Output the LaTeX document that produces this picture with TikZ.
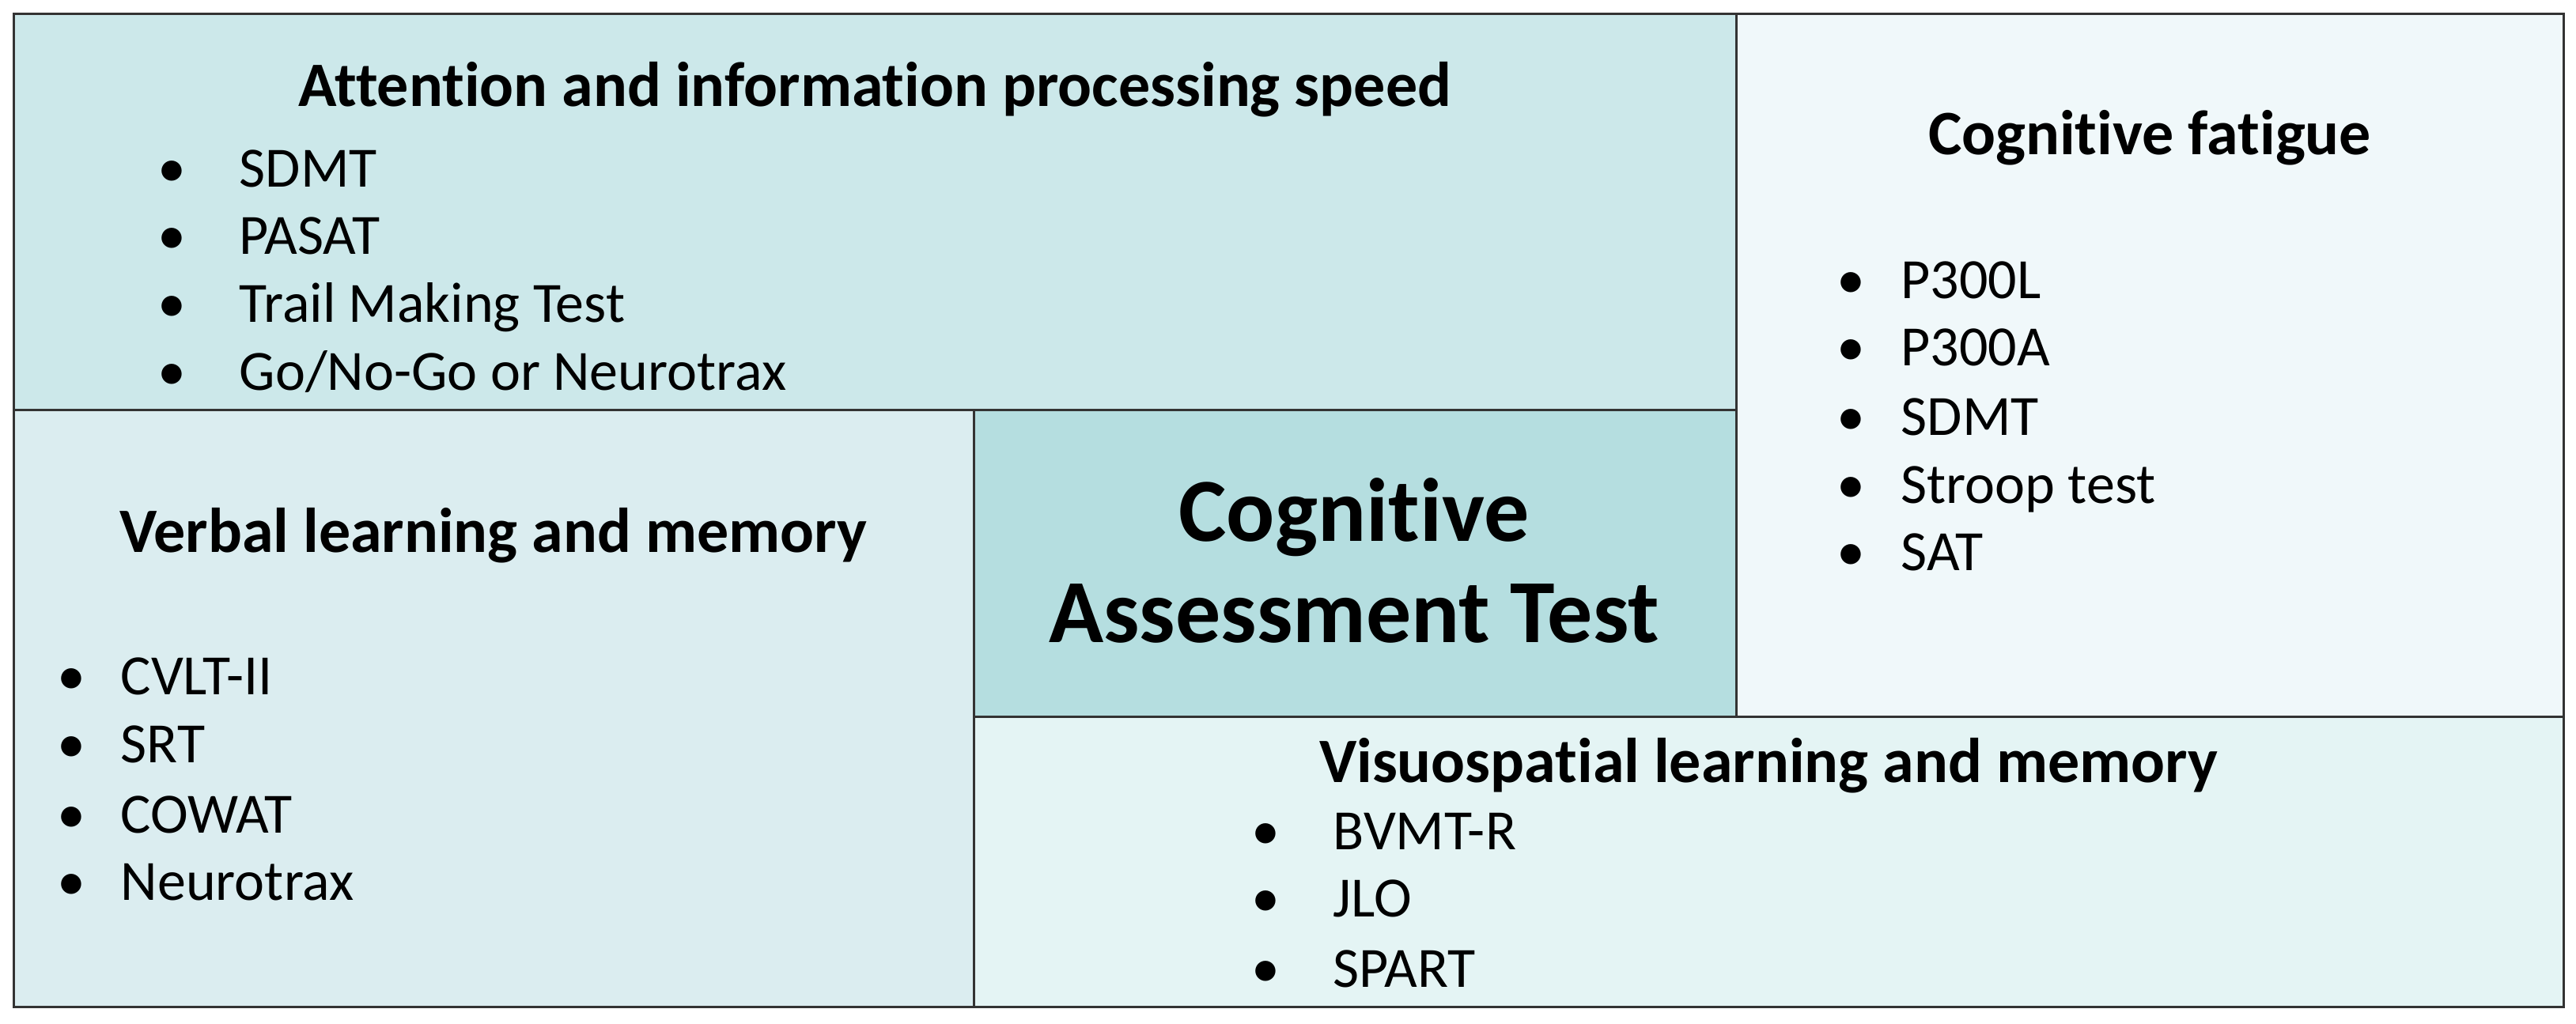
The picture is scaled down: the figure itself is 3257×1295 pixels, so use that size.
\documentclass[tikz,border=0pt]{standalone}
\usepackage{fontspec}
\setmainfont{Carlito}[Ligatures=NoCommon]
\definecolor{attncol}{HTML}{CCE8EA}
\definecolor{fatcol}{HTML}{F0F8FA}
\definecolor{verbcol}{HTML}{DBEDF0}
\definecolor{corecol}{HTML}{B5DEE0}
\definecolor{visucol}{HTML}{E4F4F4}
\newcommand{\itm}[2]{\llap{\textbullet\hspace{#1}}#2}

\begin{document}
\begin{tikzpicture}[x=0.25pt,y=-0.25pt]
                        \tikzstyle{panel}=[draw=black!80, line width=0.75pt]
                        \tikzstyle{head}=[font=\fontsize{20}{23}\selectfont\bfseries, anchor=base, inner sep=0pt]
                        \tikzstyle{item}=[font=\fontsize{18}{21.5}\selectfont, anchor=base west, inner sep=0pt]
                        \tikzstyle{core}=[font=\fontsize{28.5}{32}\selectfont\bfseries, anchor=base, inner sep=0pt]
                        \useasboundingbox[fill=white] (0,0) rectangle (3257,1295);
                        % panels
                        \filldraw[panel, fill=attncol] (17,17) rectangle (2195,518);
                        \filldraw[panel, fill=fatcol] (2195,17) rectangle (3241,906);
                        \filldraw[panel, fill=verbcol] (17,518) rectangle (1231,1273);
                        \filldraw[panel, fill=corecol] (1231,518) rectangle (2195,906);
                        \filldraw[panel, fill=visucol] (1231,906) rectangle (3241,1273);
                        % attention
                        \node[head] (attn) at (1106,134) {Attention and information processing speed};
                        \node[item] (attn1) at (302,236) {\itm{16.75pt}{SDMT}};
                        \node[item] (attn2) at (302,321) {\itm{16.75pt}{PASAT}};
                        \node[item] (attn3) at (302,407) {\itm{16.75pt}{Trail Making Test}};
                        \node[item] (attn4) at (302,493) {\itm{16.75pt}{Go/No-Go or Neurotrax}};
                        % fatigue
                        \node[head] (fat) at (2718,195) {Cognitive fatigue};
                        \node[item] (fat1) at (2403,377) {\itm{11.25pt}{P300L}};
                        \node[item] (fat2) at (2403,462) {\itm{11.25pt}{P300A}};
                        \node[item] (fat3) at (2403,550) {\itm{11.25pt}{SDMT}};
                        \node[item] (fat4) at (2403,636) {\itm{11.25pt}{Stroop test}};
                        \node[item] (fat5) at (2403,721) {\itm{11.25pt}{SAT}};
                        % verbal
                        \node[head] (verb) at (624,698) {Verbal learning and memory};
                        \node[item] (verb1) at (152,878) {\itm{11pt}{CVLT-II}};
                        \node[item] (verb2) at (152,964) {\itm{11pt}{SRT}};
                        \node[item] (verb3) at (152,1053) {\itm{11pt}{COWAT}};
                        \node[item] (verb4) at (152,1138) {\itm{11pt}{Neurotrax}};
                        % centre
                        \node[core] (core1) at (1712,684) {Cognitive};
                        \node[core] (core2) at (1712,812) {Assessment Test};
                        % visuospatial
                        \node[head] (visu) at (2236,989) {Visuospatial learning and memory};
                        \node[item] (visu1) at (1685,1074) {\itm{16.75pt}{BVMT-R}};
                        \node[item] (visu2) at (1685,1159) {\itm{16.75pt}{JLO}};
                        \node[item] (visu3) at (1685,1248) {\itm{16.75pt}{SPART}};
                    \end{tikzpicture}
\end{document}
